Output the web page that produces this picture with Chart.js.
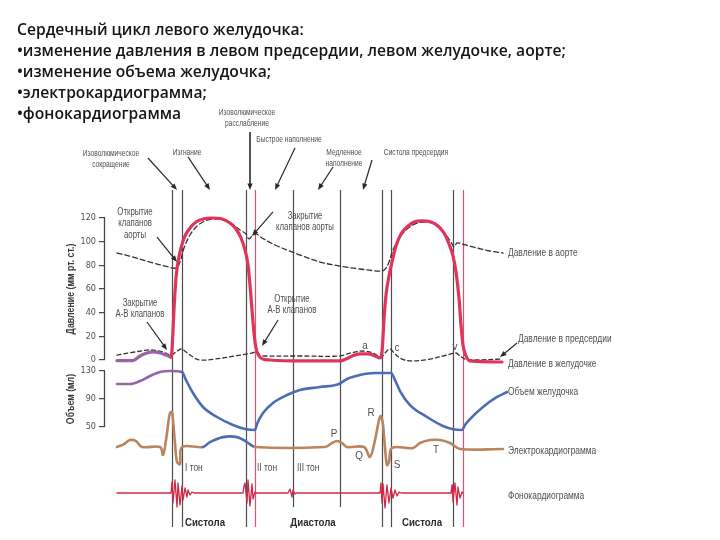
<!DOCTYPE html>
<html>
<head>
<meta charset="utf-8">
<script src="https://cdn.jsdelivr.net/npm/chart.js@4.4.1/dist/chart.umd.min.js"></script>
<style>
  html, body { margin: 0; padding: 0; background: #fff; }
  #wrap { width: 720px; height: 540px; }
</style>
</head>
<body>
<div id="wrap"><canvas id="c" width="720" height="540"></canvas></div>
<script>
// время в мс (один цикл ~840 мс)

// давление в левом желудочке, мм рт. ст.
const lvTime = [48,112,140,168,192,220,244,264,268,276,284,292,304,320,340,364,392,428,468,500,524,544,560,572,580,588,596,604,616,632,660,780,940,964,988,1020,1052,1080,1100,1108,1116,1124,1136,1148,1164,1184,1208,1236,1268,1304,1332,1356,1376,1392,1404,1416,1424,1432,1444,1460,1588];
const lvPressure = [-0.5,-0.5,3.4,5.9,6.8,5.9,4.2,2.5,8.5,42.3,69.3,82.8,94.6,104.8,111.5,116.6,119.2,120,119.2,115.8,110.7,103.1,93,80.3,63.4,42.3,22.8,10.1,3.4,0.8,0,-0.8,-0.8,0.8,3.4,5.1,5.1,3.4,1.7,6.8,33.8,54.9,71,82.8,96.3,106.5,112.4,116.6,117.5,116.6,113.2,107.3,98,87.9,74.4,52.4,29.6,12.7,3.4,-0.8,-1.7];

// давление в аорте
const aoTime = [48,112,180,240,284,300,316,340,368,400,436,476,508,540,564,576,588,604,628,680,780,860,940,1020,1108,1124,1136,1152,1172,1200,1232,1268,1308,1340,1364,1384,1396,1408,1428,1472,1540,1592];
const aoPressure = [90.4,87,82.8,79.4,77.7,82.8,94.6,105.6,113.2,117.5,119.2,118.3,114.9,109.9,106.5,102.3,104.8,106.5,103.1,97.2,88.7,82.8,79.4,76.9,75.2,77.7,82.8,93,101.4,109,114.1,116.6,115.8,111.5,105.6,99.7,95.5,98.9,98,95.5,92.1,90.4];

// давление в левом предсердии
const laTime = [48,120,180,232,264,284,304,324,352,380,440,520,588,608,620,640,780,940,980,1032,1072,1104,1124,1140,1160,1188,1228,1300,1368,1404,1420,1440,1460,1588];
const laPressure = [4.2,6.8,8.5,6.8,4.2,6.8,9.3,6.8,2.5,0,0.8,3.4,5.9,6.8,4.2,3.4,3.4,3.4,5.9,7.6,5.9,2.5,6.8,9.3,5.1,0.8,-0.8,0.8,4.2,5.9,3.4,0.8,0,0.8];

// объем желудочка, мл
const volTime = [48,100,140,180,220,260,308,324,352,392,448,512,560,600,608,632,672,728,780,860,936,968,1020,1080,1144,1160,1180,1220,1288,1352,1388,1428,1440,1460,1512,1568,1608];
const volValue = [111.4,111.4,115.7,122.9,128.6,130,128.6,117.1,98.6,78.6,64.3,52.9,47.1,45.7,54.3,70,84.3,95.7,102.9,107.1,111.4,118.6,124.3,127.1,127.1,117.1,101.4,81.4,64.3,51.4,47.1,45.7,52.9,61.4,78.6,92.9,100];

// ЭКГ, мВ
const ecgTime = [48,76,100,124,148,220,232,244,252,260,268,272,280,288,300,308,392,420,472,528,568,600,880,908,928,948,968,1036,1060,1080,1096,1104,1112,1120,1128,1136,1148,1232,1260,1300,1340,1380,1420,1592];
const ecgValue = [0,0.09,0.21,0.18,0,0,-0.24,0.21,0.67,1.03,1.06,0.82,0.12,-0.45,-0.52,0,0,0.15,0.3,0.3,0.15,0,0,0.12,0.18,0.12,0,0,-0.3,0.21,0.82,0.94,0.67,-0.03,-0.55,-0.45,-0.03,-0.03,0.12,0.21,0.21,0.12,-0.06,-0.06];

// фонокардиограмма, усл. ед.
const pcgTime = [48,264,268,272,280,288,292,300,308,312,320,328,332,340,348,356,552,556,560,568,572,580,588,592,600,604,732,740,748,752,760,764,1100,1104,1108,1112,1120,1128,1136,1144,1152,1160,1168,1176,1184,1384,1388,1392,1400,1408,1412,1420,1428,1432,1592];
const pcgValue = [0,0,1.1,-1,1.3,-1.4,1,-1.2,0.7,-0.7,0.5,-0.4,0.3,-0.2,0.1,0,0,0.7,1,-1,1.3,-1.3,0.9,-0.6,0.1,0,0,0.4,-0.4,0.3,-0.1,0,0,1,-1,0.9,-1.5,0.8,-1,0.5,-0.5,0.3,-0.3,0.1,0,0,0.8,-0.9,1,-1.2,0.6,-0.5,0.1,0];

// моменты событий цикла (вертикальные линии), мс
const eventTimes = [268,308,564,600,752,940,1108,1144,1392,1432];
const eventRed = [false,false,false,true,false,false,false,false,false,true];
const eventShort = [false,false,false,false,true,true,false,false,false,false];

// деления осей
const pressureTicks = [0,20,40,60,80,100,120];
const volumeTicks = [50,90,130];

const titleLines = [
  'Сердечный цикл левого желудочка:',
  '•изменение давления в левом предсердии, левом желудочке, аорте;',
  '•изменение объема желудочка;',
  '•электрокардиограмма;',
  '•фонокардиограмма'
];

// подписи: [строки, t, значение, ось, выравнивание, вид]
const notes = [
  [['Изоволюмическое','расслабление'], 568, 209.6, 'yP', 'center', 'top'],
  [['Изоволюмическое','сокращение'], 24, 174.9, 'yP', 'center', 'top'],
  [['Изгнание'], 328, 175.8, 'yP', 'center', 'top'],
  [['Быстрое наполнение'], 736, 186.8, 'yP', 'center', 'top'],
  [['Медленное','наполнение'], 956, 175.8, 'yP', 'center', 'top'],
  [['Систола предсердия'], 1244, 175.8, 'yP', 'center', 'top'],
  [['Открытие','клапанов','аорты'], 120, 125.1, 'yP', 'center', 'mid'],
  [['Закрытие','клапанов аорты'], 800, 121.7, 'yP', 'center', 'mid'],
  [['Закрытие','А-В клапанов'], 140, 48.2, 'yP', 'center', 'mid'],
  [['Открытие','А-В клапанов'], 748, 51.5, 'yP', 'center', 'mid'],
  [['Давление в аорте'], 1612, 90.4, 'yP', 'left', 'side'],
  [['Давление в предсердии'], 1652, 17.7, 'yP', 'left', 'side'],
  [['Давление в желудочке'], 1612, -3.4, 'yP', 'left', 'side'],
  [['a'], 1040, 11.8, 'yP', 'center', 'wave'],
  [['c'], 1168, 10.1, 'yP', 'center', 'wave'],
  [['v'], 1400, 11, 'yP', 'center', 'wave'],
  [['Объем желудочка'], 1612, 100, 'yV', 'left', 'side'],
  [['Электрокардиограмма'], 1612, -0.12, 'yE', 'left', 'side'],
  [['P'], 916, 0.39, 'yE', 'center', 'wave'],
  [['R'], 1064, 1.03, 'yE', 'center', 'wave'],
  [['Q'], 1016, -0.27, 'yE', 'center', 'wave'],
  [['S'], 1168, -0.55, 'yE', 'center', 'wave'],
  [['T'], 1324, -0.09, 'yE', 'center', 'wave'],
  [['I тон'], 320, -0.64, 'yE', 'left', 'side'],
  [['II тон'], 608, -0.64, 'yE', 'left', 'side'],
  [['III тон'], 768, -0.64, 'yE', 'left', 'side'],
  [['Фонокардиограмма'], 1612, -0.3, 'yF', 'left', 'side']
];
const phaseNames = [['Систола', 400], ['Диастола', 832], ['Систола', 1268]];

// стрелки: [ось, t0, v0, t1, v1, толщина]
const arrows = [
  ['yP', 580, 192.7, 580, 143.7, 1.6],
  ['yP', 172, 170.7, 288, 143.7, 1.2],
  ['yP', 332, 171.6, 420, 143.7, 1.2],
  ['yP', 760, 179.2, 680, 143.7, 1.2],
  ['yP', 912, 163.1, 852, 143.7, 1.2],
  ['yP', 1068, 169, 1032, 143.7, 1.2],
  ['yP', 208, 103.9, 288, 82.8, 1.2],
  ['yP', 672, 125.1, 588, 104.8, 1.2],
  ['yP', 168, 32.1, 248, 8.5, 1.2],
  ['yP', 692, 33.8, 628, 11.8, 1.2],
  ['yP', 1648, 14.4, 1580, 2.5, 1.2]
];

const C = {
  red: '#e0355a', purple: '#9a62a8', blue: '#4a6db5', ecg: '#b9845e',
  pcg: '#cf2a45', dash: '#333', text: '#4f4f4f', evRed: '#e2506e', ev: '#4c4c4c'
};
const SANS = '"Liberation Sans", Arial, sans-serif';
// вид подписи: размер шрифта, горизонтальное сжатие, межстрочный интервал
const noteStyle = {
  top:  { size: 9.5, sx: 0.7, lh: 11 },
  mid:  { size: 10, sx: 0.78, lh: 11.5 },
  side: { size: 10.5, sx: 0.8, lh: 12 },
  wave: { size: 11, sx: 0.9, lh: 12 }
};

const pts = (xs, ys) => xs.map((x, i) => ({ x, y: ys[i] }));

function condText(ctx, s, x, y, align, sx) {
  ctx.save();
  ctx.translate(x, y); ctx.scale(sx, 1);
  ctx.textAlign = align;
  ctx.fillText(s, 0, 0);
  ctx.restore();
}

function arrow(ctx, x1, y1, x2, y2, w) {
  const a = Math.atan2(y2 - y1, x2 - x1), hl = 7;
  ctx.save();
  ctx.strokeStyle = '#2a2a2a'; ctx.fillStyle = '#2a2a2a'; ctx.lineWidth = w;
  ctx.beginPath(); ctx.moveTo(x1, y1);
  ctx.lineTo(x2 - hl * 0.7 * Math.cos(a), y2 - hl * 0.7 * Math.sin(a)); ctx.stroke();
  ctx.beginPath(); ctx.moveTo(x2, y2);
  ctx.lineTo(x2 - hl * Math.cos(a - 0.38), y2 - hl * Math.sin(a - 0.38));
  ctx.lineTo(x2 - hl * Math.cos(a + 0.38), y2 - hl * Math.sin(a + 0.38));
  ctx.closePath(); ctx.fill();
  ctx.restore();
}

const decor = {
  id: 'decor',
  afterLayout(chart) {
    // ось объема не занимает места, но её подписи не должны обрезаться
    chart.scales.yV.left = 0;
  },
  beforeDatasetsDraw(chart) {
    const { ctx, scales } = chart;
    const top = scales.yP.getPixelForValue(143.7);
    ctx.save();
    eventTimes.forEach((t, i) => {
      const x = Math.round(scales.x.getPixelForValue(t)) + 0.5;
      const bot = scales.yF.getPixelForValue(eventShort[i] ? -1.4 : -3.4);
      ctx.strokeStyle = eventRed[i] ? C.evRed : C.ev;
      ctx.lineWidth = 1.2;
      ctx.beginPath(); ctx.moveTo(x, top); ctx.lineTo(x, bot); ctx.stroke();
    });
    ctx.restore();
  },
  afterDatasetsDraw(chart) {
    const { ctx, scales, chartArea } = chart;
    ctx.save();
    // скобки осей
    ctx.strokeStyle = '#444'; ctx.lineWidth = 1.3;
    const ax = chartArea.left - 0.5;
    ctx.beginPath();
    ctx.moveTo(ax, scales.yP.getPixelForValue(120)); ctx.lineTo(ax, scales.yP.getPixelForValue(0));
    ctx.moveTo(ax, scales.yV.getPixelForValue(130)); ctx.lineTo(ax, scales.yV.getPixelForValue(50));
    ctx.stroke();

    // названия осей
    ctx.fillStyle = '#3a3a3a';
    ctx.font = 'bold 11px ' + SANS;
    ctx.textBaseline = 'middle';
    [['Давление (мм рт. ст.)', scales.yP.getPixelForValue(60)], ['Объем (мл)', scales.yV.getPixelForValue(90)]]
      .forEach(([s, y]) => {
        ctx.save(); ctx.translate(chartArea.left - 34, y); ctx.rotate(-Math.PI / 2);
        condText(ctx, s, 0, 0, 'center', 0.8);
        ctx.restore();
      });

    // заголовок слайда
    ctx.fillStyle = '#151515';
    ctx.textAlign = 'left';
    let fs = 16;
    const fam = '"Open Sans", "Noto Sans", sans-serif';
    ctx.font = '600 ' + fs + 'px ' + fam;
    fs = fs * 549 / ctx.measureText(titleLines[1]).width;
    ctx.font = '600 ' + fs.toFixed(2) + 'px ' + fam;
    titleLines.forEach((s, i) => ctx.fillText(s, 17, 31 + i * 21));

    // подписи
    ctx.fillStyle = C.text;
    notes.forEach(([lines, t, v, axis, align, kind]) => {
      const st = noteStyle[kind];
      const x = scales.x.getPixelForValue(t), y = scales[axis].getPixelForValue(v);
      ctx.font = st.size + 'px ' + SANS;
      lines.forEach((s, i) => condText(ctx, s, x, y + i * st.lh, align, st.sx));
    });
    ctx.fillStyle = '#2a2a2a';
    ctx.font = 'bold 11px ' + SANS;
    phaseNames.forEach(([s, t]) => condText(ctx, s, scales.x.getPixelForValue(t), scales.yF.getPixelForValue(-3.0), 'center', 0.88));

    arrows.forEach(([axis, t0, v0, t1, v1, w]) => arrow(ctx,
      scales.x.getPixelForValue(t0), scales[axis].getPixelForValue(v0),
      scales.x.getPixelForValue(t1), scales[axis].getPixelForValue(v1), w));
    ctx.restore();
  }
};

const tickFont = { family: '"DejaVu Sans Condensed", "Liberation Sans", sans-serif', size: 9 };
function leftAxis(min, max, tickVals, width, weight) {
  return {
    position: 'left', weight, min, max,
    border: { display: false },
    grid: { drawOnChartArea: false, drawTicks: true, tickLength: 6, color: '#444', lineWidth: 1.2 },
    ticks: { font: tickFont, color: C.text, padding: 3, autoSkip: false },
    afterBuildTicks: (s) => { s.ticks = tickVals.map((v) => ({ value: v })); },
    afterFit: (s) => { s.width = width; s.paddingTop = 0; s.paddingBottom = 0; }
  };
}

new Chart(document.getElementById('c').getContext('2d'), {
  type: 'line',
  data: {
    datasets: [
      { label: 'ЭКГ', data: pts(ecgTime, ecgValue), yAxisID: 'yE', borderColor: C.ecg, borderWidth: 2.6, tension: 0.35,
        segment: { borderColor: (c) => (c.p0.parsed.x >= 392 && c.p1.parsed.x <= 600 ? C.blue : C.ecg) } },
      { label: 'ФКГ', data: pts(pcgTime, pcgValue), yAxisID: 'yF', borderColor: C.pcg, borderWidth: 1.3, tension: 0 },
      { label: 'Объем', data: pts(volTime, volValue), yAxisID: 'yV', borderColor: C.blue, borderWidth: 2.6, cubicInterpolationMode: 'monotone',
        segment: { borderColor: (c) => (c.p1.parsed.x <= 308 ? C.purple : C.blue) } },
      { label: 'Желудочек', data: pts(lvTime, lvPressure), yAxisID: 'yP', borderColor: C.red, borderWidth: 3.2, cubicInterpolationMode: 'monotone',
        segment: { borderColor: (c) => (c.p1.parsed.x <= 264 ? C.purple : C.red) } },
      { label: 'Аорта', data: pts(aoTime, aoPressure), yAxisID: 'yP', borderColor: C.dash, borderWidth: 1.3, borderDash: [5, 3], tension: 0.35 },
      { label: 'Предсердие', data: pts(laTime, laPressure), yAxisID: 'yP', borderColor: C.dash, borderWidth: 1.3, borderDash: [4, 3], tension: 0.35 }
    ]
  },
  options: {
    responsive: false, animation: false, devicePixelRatio: 1,
    layout: { padding: 0 },
    elements: { point: { radius: 0 }, line: { fill: false, borderCapStyle: 'round', borderJoinStyle: 'round' } },
    plugins: { legend: { display: false }, tooltip: { enabled: false } },
    scales: {
      x: { type: 'linear', display: false, min: 0, max: 2460 },
      yP: leftAxis(-152.1, 304.2, pressureTicks, 105, 2),
      yV: leftAxis(-111.4, 660, volumeTicks, 0, 1),
      yE: { display: false, min: -2.818, max: 13.545 },
      yF: { display: false, min: -4.7, max: 49.3 }
    }
  },
  plugins: [decor]
});
</script>
</body>
</html>
